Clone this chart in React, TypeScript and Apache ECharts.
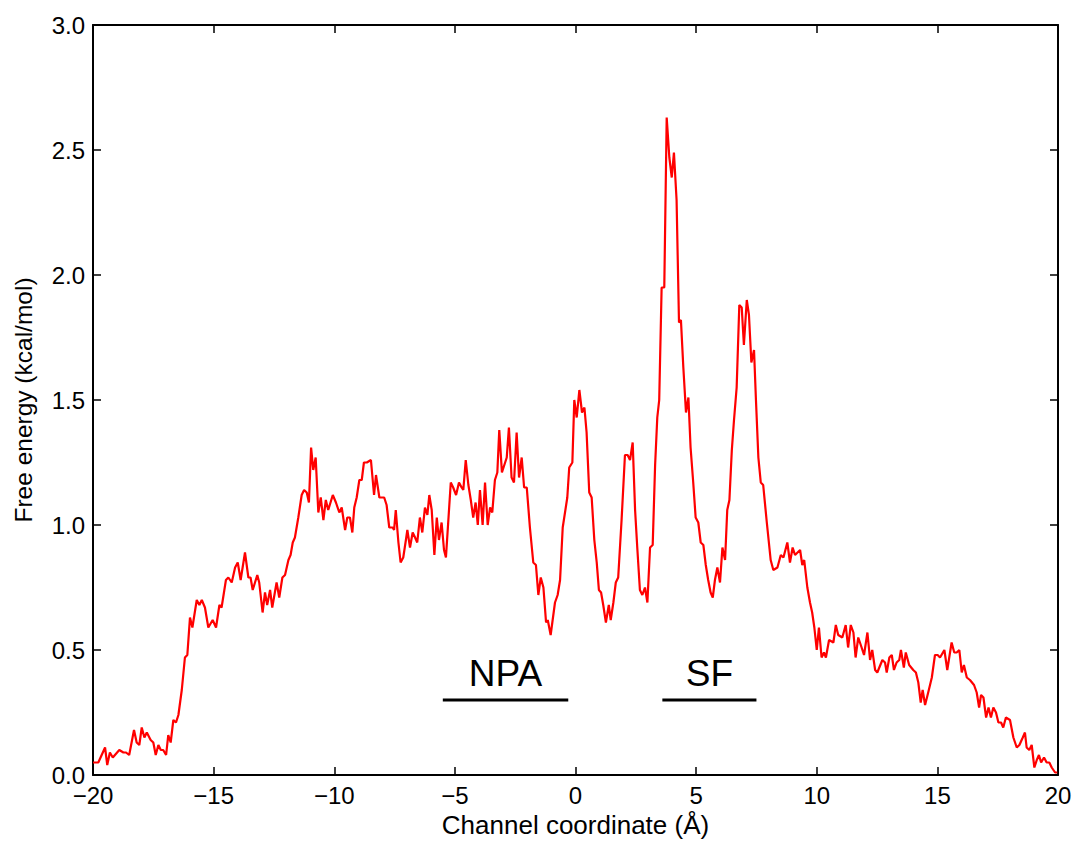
import React, { useEffect, useRef } from "react";
import * as echarts from "echarts";

// Channel coordinate (Å)
const coordinate: number[] = [
  -20.0, -19.78, -19.5, -19.41, -19.3, -19.18, -18.91, -18.74, -18.63, -18.5,
  -18.3, -18.19, -18.08, -17.98, -17.87, -17.77, -17.61, -17.5, -17.4, -17.29,
  -17.19, -17.09, -16.97, -16.88, -16.78, -16.67, -16.56, -16.46, -16.32, -16.19,
  -16.09, -15.98, -15.88, -15.7, -15.59, -15.49, -15.36, -15.22, -15.04, -14.9,
  -14.76, -14.67, -14.49, -14.39, -14.25, -14.11, -14.0, -13.88, -13.7, -13.56,
  -13.47, -13.38, -13.19, -13.11, -12.97, -12.87, -12.78, -12.66, -12.57, -12.39,
  -12.28, -12.15, -12.04, -11.9, -11.81, -11.72, -11.63, -11.49, -11.35, -11.25,
  -11.14, -11.05, -10.96, -10.87, -10.77, -10.66, -10.56, -10.45, -10.35, -10.25,
  -10.06, -9.93, -9.79, -9.69, -9.55, -9.46, -9.35, -9.25, -9.17, -9.07,
  -8.96, -8.86, -8.77, -8.65, -8.48, -8.35, -8.27, -8.13, -8.03, -7.93,
  -7.83, -7.72, -7.58, -7.52, -7.45, -7.34, -7.25, -7.14, -7.03, -6.97,
  -6.86, -6.75, -6.65, -6.56, -6.45, -6.35, -6.24, -6.14, -6.06, -5.96,
  -5.85, -5.75, -5.66, -5.55, -5.45, -5.37, -5.17, -5.07, -4.95, -4.83,
  -4.72, -4.65, -4.55, -4.44, -4.34, -4.24, -4.14, -4.05, -3.96, -3.85,
  -3.75, -3.64, -3.54, -3.45, -3.34, -3.24, -3.16, -3.05, -2.85, -2.76,
  -2.65, -2.55, -2.44, -2.34, -2.23, -2.13, -2.02, -1.89, -1.75, -1.64,
  -1.54, -1.44, -1.33, -1.22, -1.15, -1.03, -0.85, -0.74, -0.64, -0.53,
  -0.34, -0.26, -0.13, -0.05, 0.05, 0.16, 0.27, 0.37, 0.46, 0.57,
  0.67, 0.78, 0.88, 0.97, 1.06, 1.15, 1.26, 1.38, 1.46, 1.57,
  1.67, 1.77, 1.91, 2.05, 2.16, 2.26, 2.37, 2.47, 2.56, 2.67,
  2.77, 2.88, 2.98, 3.09, 3.2, 3.3, 3.39, 3.47, 3.57, 3.68,
  3.78, 3.89, 3.99, 4.08, 4.19, 4.29, 4.37, 4.47, 4.58, 4.68,
  4.77, 4.88, 4.98, 5.09, 5.19, 5.3, 5.4, 5.5, 5.6, 5.69,
  5.78, 5.88, 5.99, 6.09, 6.2, 6.29, 6.38, 6.48, 6.57, 6.68,
  6.79, 6.89, 6.98, 7.1, 7.19, 7.29, 7.4, 7.48, 7.58, 7.68,
  7.78, 7.93, 8.09, 8.2, 8.37, 8.51, 8.62, 8.78, 8.89, 9.0,
  9.1, 9.31, 9.4, 9.48, 9.61, 9.72, 9.81, 9.9, 10.0, 10.09,
  10.2, 10.3, 10.38, 10.51, 10.69, 10.79, 10.89, 11.06, 11.2, 11.3,
  11.41, 11.52, 11.61, 11.72, 11.86, 11.96, 12.1, 12.21, 12.3, 12.42,
  12.51, 12.72, 12.83, 12.9, 13.01, 13.11, 13.2, 13.31, 13.42, 13.49,
  13.61, 13.69, 13.83, 14.0, 14.11, 14.21, 14.31, 14.39, 14.49, 14.62,
  14.77, 14.9, 15.01, 15.11, 15.29, 15.41, 15.59, 15.7, 15.8, 15.91,
  16.01, 16.1, 16.22, 16.35, 16.52, 16.63, 16.73, 16.81, 16.91, 17.02,
  17.12, 17.22, 17.32, 17.43, 17.53, 17.64, 17.73, 17.84, 18.01, 18.15,
  18.29, 18.4, 18.54, 18.63, 18.7, 18.81, 18.91, 19.02, 19.12, 19.21,
  19.3, 19.42, 19.53, 19.64, 19.74, 19.88, 19.97,
];

// Free energy (kcal/mol)
const freeEnergy: number[] = [
  0.05, 0.05, 0.11, 0.04, 0.09, 0.07, 0.1, 0.09, 0.09, 0.08,
  0.18, 0.13, 0.12, 0.19, 0.15, 0.17, 0.14, 0.13, 0.08, 0.12,
  0.1, 0.1, 0.08, 0.16, 0.13, 0.22, 0.21, 0.24, 0.34, 0.47,
  0.48, 0.63, 0.59, 0.7, 0.68, 0.7, 0.67, 0.59, 0.62, 0.59,
  0.68, 0.67, 0.78, 0.79, 0.77, 0.83, 0.85, 0.78, 0.89, 0.79,
  0.79, 0.74, 0.8, 0.77, 0.65, 0.73, 0.68, 0.74, 0.67, 0.77,
  0.71, 0.79, 0.8, 0.86, 0.88, 0.93, 0.95, 1.03, 1.12, 1.14,
  1.13, 1.09, 1.31, 1.22, 1.27, 1.05, 1.11, 1.02, 1.1, 1.06,
  1.12, 1.09, 1.05, 1.07, 0.98, 1.03, 1.03, 0.97, 1.07, 1.11,
  1.18, 1.18, 1.25, 1.25, 1.26, 1.12, 1.2, 1.11, 1.11, 1.11,
  1.08, 0.99, 0.99, 0.98, 1.06, 0.93, 0.85, 0.87, 0.94, 0.98,
  0.91, 0.97, 0.95, 0.93, 1.03, 0.97, 1.07, 1.04, 1.12, 1.06,
  0.88, 1.03, 0.94, 1.01, 0.9, 0.87, 1.17, 1.15, 1.12, 1.17,
  1.15, 1.14, 1.26, 1.16, 1.1, 1.03, 1.09, 1.0, 1.14, 1.0,
  1.17, 1.0, 1.07, 1.05, 1.18, 1.21, 1.38, 1.21, 1.27, 1.39,
  1.19, 1.17, 1.37, 1.19, 1.27, 1.15, 1.15, 0.99, 0.85, 0.84,
  0.72, 0.79, 0.75, 0.61, 0.62, 0.56, 0.69, 0.72, 0.78, 0.99,
  1.11, 1.23, 1.25, 1.5, 1.43, 1.54, 1.45, 1.47, 1.37, 1.13,
  1.11, 0.94, 0.85, 0.74, 0.73, 0.68, 0.61, 0.68, 0.62, 0.69,
  0.77, 0.79, 1.02, 1.28, 1.28, 1.26, 1.33, 1.06, 0.91, 0.74,
  0.72, 0.75, 0.69, 0.91, 0.92, 1.24, 1.43, 1.5, 1.95, 1.95,
  2.63, 2.47, 2.39, 2.49, 2.3, 1.81, 1.82, 1.63, 1.45, 1.51,
  1.31, 1.17, 1.03, 1.01, 0.93, 0.92, 0.84, 0.78, 0.73, 0.71,
  0.78, 0.83, 0.77, 0.91, 0.86, 1.06, 1.1, 1.3, 1.42, 1.55,
  1.88, 1.87, 1.72, 1.9, 1.84, 1.65, 1.7, 1.5, 1.27, 1.17,
  1.16, 1.01, 0.86, 0.82, 0.83, 0.88, 0.87, 0.93, 0.85, 0.91,
  0.88, 0.9, 0.84, 0.86, 0.75, 0.69, 0.65, 0.59, 0.5, 0.59,
  0.47, 0.49, 0.47, 0.54, 0.53, 0.6, 0.56, 0.55, 0.6, 0.51,
  0.6, 0.57, 0.47, 0.55, 0.51, 0.48, 0.57, 0.46, 0.5, 0.42,
  0.41, 0.46, 0.45, 0.41, 0.47, 0.48, 0.42, 0.45, 0.46, 0.5,
  0.43, 0.49, 0.44, 0.42, 0.41, 0.37, 0.29, 0.34, 0.28, 0.33,
  0.39, 0.48, 0.48, 0.47, 0.5, 0.42, 0.53, 0.49, 0.49, 0.5,
  0.41, 0.44, 0.39, 0.38, 0.36, 0.33, 0.27, 0.32, 0.31, 0.23,
  0.27, 0.23, 0.27, 0.25, 0.21, 0.21, 0.19, 0.23, 0.22, 0.15,
  0.11, 0.12, 0.15, 0.17, 0.11, 0.1, 0.12, 0.03, 0.06, 0.08,
  0.05, 0.07, 0.05, 0.05, 0.03, 0.01, 0.01,
];

// Annotated regions
const regionNames: string[] = ["NPA", "SF"];
const regionStart: number[] = [-5.5, 3.6];
const regionEnd: number[] = [-0.3, 7.5];
const regionBarLevel = 0.3;
const regionLabelLevel = 0.405;

const xRange = [-20, 20];
const yRange = [0, 3];
const xStep = 5;
const yStep = 0.5;

const FONT = "'Liberation Sans', Arial, Helvetica, sans-serif";

const fmtX = (v: number) => (v < 0 ? "\u2212" + Math.abs(v) : String(v));
const fmtY = (v: number) => v.toFixed(1);

export default function App() {
  const ref = useRef<HTMLDivElement>(null);

  useEffect(() => {
    if (!ref.current) return;
    const chart = echarts.init(ref.current, null, { renderer: "svg" });

    const curve = coordinate.map((x, i) => [x, freeEnergy[i]]);

    const axisLine = { show: true, onZero: false, lineStyle: { color: "#000", width: 2 } };
    const axisTick = { show: true, inside: true, length: 8, lineStyle: { color: "#000", width: 1.5 } };
    const labelStyle = { fontSize: 24, color: "#000", fontFamily: FONT };

    const regionBars = regionNames.map((name, i) => ({
      type: "line",
      name: name + " bar",
      data: [
        [regionStart[i], regionBarLevel],
        [regionEnd[i], regionBarLevel],
      ],
      symbol: "none",
      lineStyle: { color: "#000", width: 3 },
      silent: true,
      z: 3,
    }));

    chart.setOption({
      animation: false,
      backgroundColor: "#fff",
      grid: { left: 93, right: 22, top: 25, bottom: 77, containLabel: false },
      xAxis: [
        {
          type: "value",
          min: xRange[0],
          max: xRange[1],
          interval: xStep,
          position: "bottom",
          axisLine,
          axisTick,
          splitLine: { show: false },
          axisLabel: { ...labelStyle, margin: 8, formatter: fmtX },
          name: "Channel coordinate (\u00C5)",
          nameLocation: "middle",
          nameGap: 37,
          nameTextStyle: { ...labelStyle, fontSize: 26 },
        },
        {
          type: "value",
          min: xRange[0],
          max: xRange[1],
          interval: xStep,
          position: "top",
          axisLine,
          axisTick,
          splitLine: { show: false },
          axisLabel: { show: false },
        },
      ],
      yAxis: [
        {
          type: "value",
          min: yRange[0],
          max: yRange[1],
          interval: yStep,
          position: "left",
          axisLine,
          axisTick,
          splitLine: { show: false },
          axisLabel: { ...labelStyle, margin: 8, formatter: fmtY },
          name: "Free energy (kcal/mol)",
          nameLocation: "middle",
          nameGap: 57,
          nameTextStyle: { ...labelStyle, fontSize: 24.5 },
        },
        {
          type: "value",
          min: yRange[0],
          max: yRange[1],
          interval: yStep,
          position: "right",
          axisLine,
          axisTick,
          splitLine: { show: false },
          axisLabel: { show: false },
        },
      ],
      series: [
        {
          type: "line",
          name: "Free energy",
          data: curve,
          symbol: "none",
          lineStyle: { color: "#ff0000", width: 2.2 },
          z: 2,
        },
        ...regionBars,
      ],
    });

    // Region labels positioned through the chart's own scales
    const labels = regionNames.map((n, i) => {
      const [px, py] = chart.convertToPixel({ gridIndex: 0 }, [
        (regionStart[i] + regionEnd[i]) / 2,
        regionLabelLevel,
      ]) as number[];
      return {
        type: "text",
        x: px,
        y: py,
        z: 10,
        style: {
          text: n,
          fill: "#000",
          fontSize: 37,
          fontFamily: FONT,
          align: "center",
          verticalAlign: "middle",
        },
      };
    });
    chart.setOption({ graphic: labels });

    return () => chart.dispose();
  }, []);

  return (
    <div
      ref={ref}
      style={{ position: "absolute", left: 0, top: 0, width: 1080, height: 852 }}
    />
  );
}
